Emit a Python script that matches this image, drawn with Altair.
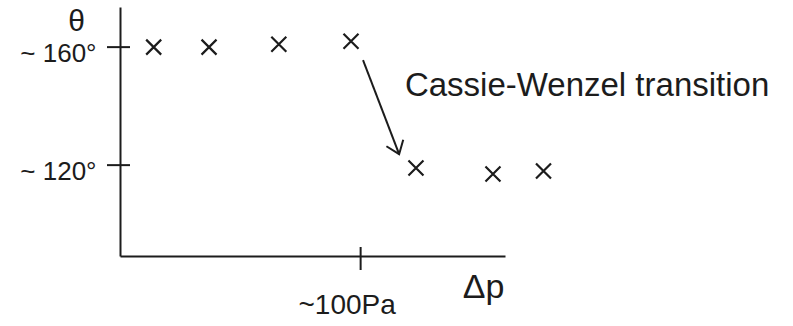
import altair as alt
import pandas as pd

# Contact angle versus applied pressure: Cassie state above, Wenzel state below
dp_values = [14, 37, 66, 96, 123, 155, 176]          # Δp (Pa)
theta_values = [160, 160, 161, 162, 119, 117, 118]   # contact angle θ (deg)

theta_ticks = [120, 160]
theta_tick_labels = ["~ 120°", "~ 160°"]
dp_ticks = [100]
dp_tick_labels = ["~100Pa"]

note_text = ["Cassie-Wenzel transition"]
note_dp = [118.4]
note_theta = [146.8]

# arrow from the last Cassie point down to the first Wenzel point
arrow_dp = [101.0, 116.0]
arrow_theta = [155.6, 123.7]

INK = "#1c1c1c"
FONT = "Liberation Sans"

x_scale = alt.Scale(domain=[0, 160], nice=False, zero=False)
y_scale = alt.Scale(domain=[89.2, 173.6], nice=False, zero=False)


def label_expr(values, labels):
    parts = [f"datum.value == {v} ? '{t}'" for v, t in zip(values, labels)]
    return " : ".join(parts) + " : ''"


points = pd.DataFrame({"dp": dp_values, "theta": theta_values})
ytick_df = pd.DataFrame({"theta": theta_ticks})
xtick_df = pd.DataFrame({"dp": dp_ticks})
note_df = pd.DataFrame({"dp": note_dp, "theta": note_theta, "label": note_text})
arrow_df = pd.DataFrame({"dp": arrow_dp, "theta": arrow_theta, "order": [0, 1]})
head_df = arrow_df.iloc[[1]]

x_axis = alt.Axis(
    values=dp_ticks, labelExpr=label_expr(dp_ticks, dp_tick_labels),
    ticks=False, tickSize=0, grid=False,
    domainColor=INK, domainWidth=2,
    labelFont=FONT, labelFontSize=28, labelColor=INK,
    labelPadding=35, labelOffset=-14,
    title="Δp", titleFont=FONT, titleFontSize=34, titleFontWeight="normal",
    titleColor=INK, titleX=363, titleY=31, titleAlign="center",
    titleBaseline="middle", titleAngle=0,
)
y_axis = alt.Axis(
    values=theta_ticks, labelExpr=label_expr(theta_ticks, theta_tick_labels),
    ticks=False, tickSize=0, grid=False,
    domainColor=INK, domainWidth=2,
    labelFont=FONT, labelFontSize=26, labelColor=INK,
    labelPadding=24, labelOffset=6,
    title="θ", titleFont=FONT, titleFontSize=30, titleFontWeight="normal",
    titleColor=INK, titleX=-44, titleY=14, titleAlign="center",
    titleBaseline="middle", titleAngle=0,
)

X = alt.X("dp:Q", scale=x_scale, axis=x_axis)
Y = alt.Y("theta:Q", scale=y_scale, axis=y_axis)

marks = alt.Chart(points).mark_point(
    shape="M-1,-1L1,1M-1,1L1,-1", size=225, filled=False,
    strokeWidth=2.2, color=INK, opacity=1,
).encode(x=X, y=Y)

ytick_rules = alt.Chart(ytick_df).mark_rule(color=INK, strokeWidth=2).encode(
    y=Y, x=alt.value(-13), x2=alt.value(10),
)

xtick_rules = alt.Chart(xtick_df).mark_rule(color=INK, strokeWidth=2).encode(
    x=X, y=alt.value(240), y2=alt.value(263),
)

shaft = alt.Chart(arrow_df).mark_line(color=INK, strokeWidth=2).encode(
    x=X, y=Y, order="order:O",
)

head = alt.Chart(head_df).mark_point(
    shape="M-0.75,-1L0,0L0.75,-1", size=576, filled=False,
    strokeWidth=2, color=INK, opacity=1, angle=339,
).encode(x=X, y=Y)

note = alt.Chart(note_df).mark_text(
    align="left", baseline="middle", font=FONT, fontSize=33, color=INK,
).encode(x=X, y=Y, text="label:N")

chart = (
    alt.layer(marks, ytick_rules, xtick_rules, shaft, head, note)
    .properties(
        width=385, height=249,
        padding={"left": 120, "top": 7, "right": 288, "bottom": 70},
        autosize=alt.AutoSizeParams(type="none"),
        background="white",
    )
    .configure_view(stroke=None)
)

chart.save("out.html", embed_options={"renderer": "svg", "actions": False})
